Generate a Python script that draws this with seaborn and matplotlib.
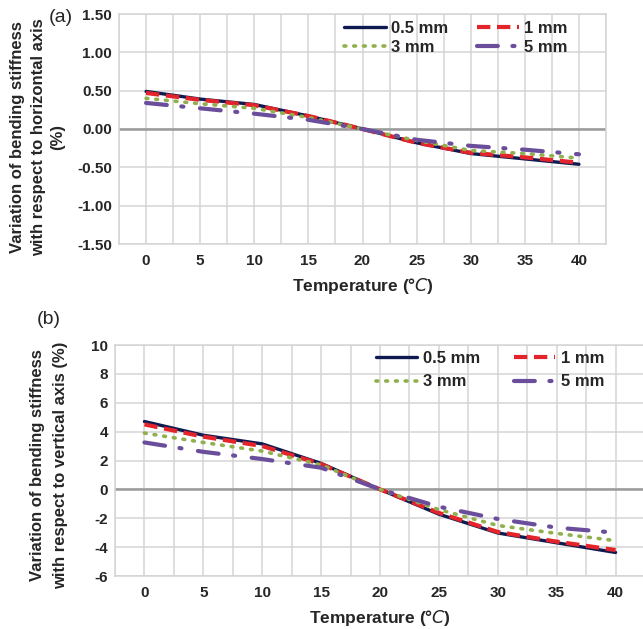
import numpy as np
import pandas as pd
import matplotlib
matplotlib.use("Agg")
import matplotlib.pyplot as plt
import seaborn as sns

# Temperatures (deg C) and the stiffness variation (%) for each thickness
temperature = [0, 5, 10, 15, 20, 25, 30, 35, 40]
thickness_labels = ["0.5 mm", "1 mm", "3 mm", "5 mm"]

horiz_05 = [0.49, 0.39, 0.32, 0.17, 0.0, -0.18, -0.32, -0.39, -0.46]
horiz_1 = [0.47, 0.38, 0.31, 0.17, 0.0, -0.18, -0.31, -0.37, -0.44]
horiz_3 = [0.40, 0.33, 0.27, 0.15, 0.0, -0.15, -0.28, -0.32, -0.38]
horiz_5 = [0.34, 0.27, 0.20, 0.12, 0.0, -0.14, -0.22, -0.27, -0.33]

vert_05 = [4.7, 3.75, 3.15, 1.8, 0.0, -1.72, -3.02, -3.7, -4.37]
vert_1 = [4.5, 3.65, 3.0, 1.75, 0.0, -1.63, -2.95, -3.62, -4.2]
vert_3 = [3.9, 3.25, 2.65, 1.7, 0.0, -1.4, -2.5, -3.05, -3.55]
vert_5 = [3.25, 2.6, 2.1, 1.5, 0.0, -1.2, -2.05, -2.65, -3.0]

ylabel_a_lines = ["Variation of bending stiffness", "with respect to horizontal axis", "(%)"]
ylabel_b_lines = ["Variation of bending stiffness", "with respect to vertical axis (%)"]

sns.set_theme(style="white")
plt.rcParams["font.family"] = ["Liberation Sans", "DejaVu Sans"]
plt.rcParams["mathtext.fontset"] = "dejavusans"

palette = {"0.5 mm": "#0f1a50", "1 mm": "#e3242b", "3 mm": "#8fb04c", "5 mm": "#6b4e9b"}
dashes = {"0.5 mm": "", "1 mm": (3.2, 1.6), "3 mm": (0.5, 2.2), "5 mm": (5.0, 3.5, 0.5, 4.0)}
widths = {"0.5 mm": 2.4, "1 mm": 3.0, "3 mm": 2.6, "5 mm": 3.0}
legend_order = ["0.5 mm", "3 mm", "1 mm", "5 mm"]  # column-first fill -> rows (0.5, 1), (3, 5)


def long_frame(series):
    rows = []
    for lab, vals in zip(thickness_labels, series):
        for t, v in zip(temperature, vals):
            rows.append({"Temperature": t, "Variation": v, "Thickness": lab})
    return pd.DataFrame(rows)


def draw_panel(ax, df, ylim, yticks, yfmt, leg_anchor, leg_spacing, col_spacing):
    sns.lineplot(data=df, x="Temperature", y="Variation", hue="Thickness",
                 style="Thickness", hue_order=thickness_labels,
                 style_order=thickness_labels, palette=palette, dashes=dashes,
                 ax=ax, legend=False, zorder=3)
    handles = {}
    for line, lab in zip(ax.lines, thickness_labels):
        line.set_linewidth(widths[lab])
        line.set_dash_capstyle("round" if lab in ("3 mm", "5 mm") else "butt")
        handles[lab] = line
    ax.set_xlim(-2.5, 42.5)
    ax.set_ylim(*ylim)
    ax.set_xticks(np.arange(0, 41, 5))
    ax.set_xticks(np.arange(-2.5, 42.6, 2.5), minor=True)
    ax.set_yticks(yticks)
    ax.set_yticklabels([yfmt.format(v) for v in yticks])
    ax.grid(True, which="both", axis="x", color="#d4d4d4", lw=1.1, zorder=0)
    ax.grid(True, which="major", axis="y", color="#d4d4d4", lw=1.1, zorder=0)
    ax.axhline(0, color="#9a9a9a", lw=1.8, zorder=1)
    for sp in ax.spines.values():
        sp.set_color("#d4d4d4")
        sp.set_linewidth(1.1)
    ax.tick_params(axis="x", length=0, labelsize=11, pad=7)
    ax.tick_params(axis="y", length=0, labelsize=11, pad=5)
    for lbl in ax.get_xticklabels() + ax.get_yticklabels():
        lbl.set_fontweight("bold")
    ax.set_ylabel("")
    ax.set_xlabel("Temperature (°$\\mathit{C}$)", fontsize=12.5, fontweight="bold",
                  labelpad=6)
    ax.legend([handles[k] for k in legend_order], legend_order, ncol=2,
              loc="upper left", bbox_to_anchor=leg_anchor, frameon=False,
              handlelength=2.5, handletextpad=0.35, columnspacing=col_spacing,
              labelspacing=leg_spacing, borderaxespad=0, borderpad=0,
              prop={"weight": "bold", "size": 12})


fig = plt.figure(figsize=(6.43, 6.29), dpi=100)
ax_a = fig.add_axes([119 / 643, 1 - 244 / 629, 487 / 643, 230 / 629])
ax_b = fig.add_axes([115 / 643, 1 - 576 / 629, 530 / 643, 231 / 629])

draw_panel(ax_a, long_frame([horiz_05, horiz_1, horiz_3, horiz_5]),
           (-1.5, 1.5), [-1.5, -1.0, -0.5, 0.0, 0.5, 1.0, 1.5], "{:.2f}",
           (0.462, 0.97), 0.25, 1.7)
draw_panel(ax_b, long_frame([vert_05, vert_1, vert_3, vert_5]),
           (-6, 10), list(range(-6, 11, 2)), "{:d}",
           (0.492, 0.974), 0.5, 2.0)

# Rotated y-axis titles, one text per line
for xpix, line in zip([18, 39, 58], ylabel_a_lines):
    fig.text(xpix / 643, 1 - 137 / 629, line, rotation=90, ha="center",
             va="center", fontsize=12, fontweight="bold")
for xpix, line in zip([38, 61], ylabel_b_lines):
    fig.text(xpix / 643, 1 - 465 / 629, line, rotation=90, ha="center",
             va="center", fontsize=12, fontweight="bold")

fig.text(49 / 643, 1 - 17 / 629, "(a)", fontsize=14, va="center", ha="left")
fig.text(37 / 643, 1 - 320 / 629, "(b)", fontsize=14, va="center", ha="left")

fig.savefig("out.png", dpi=100)
